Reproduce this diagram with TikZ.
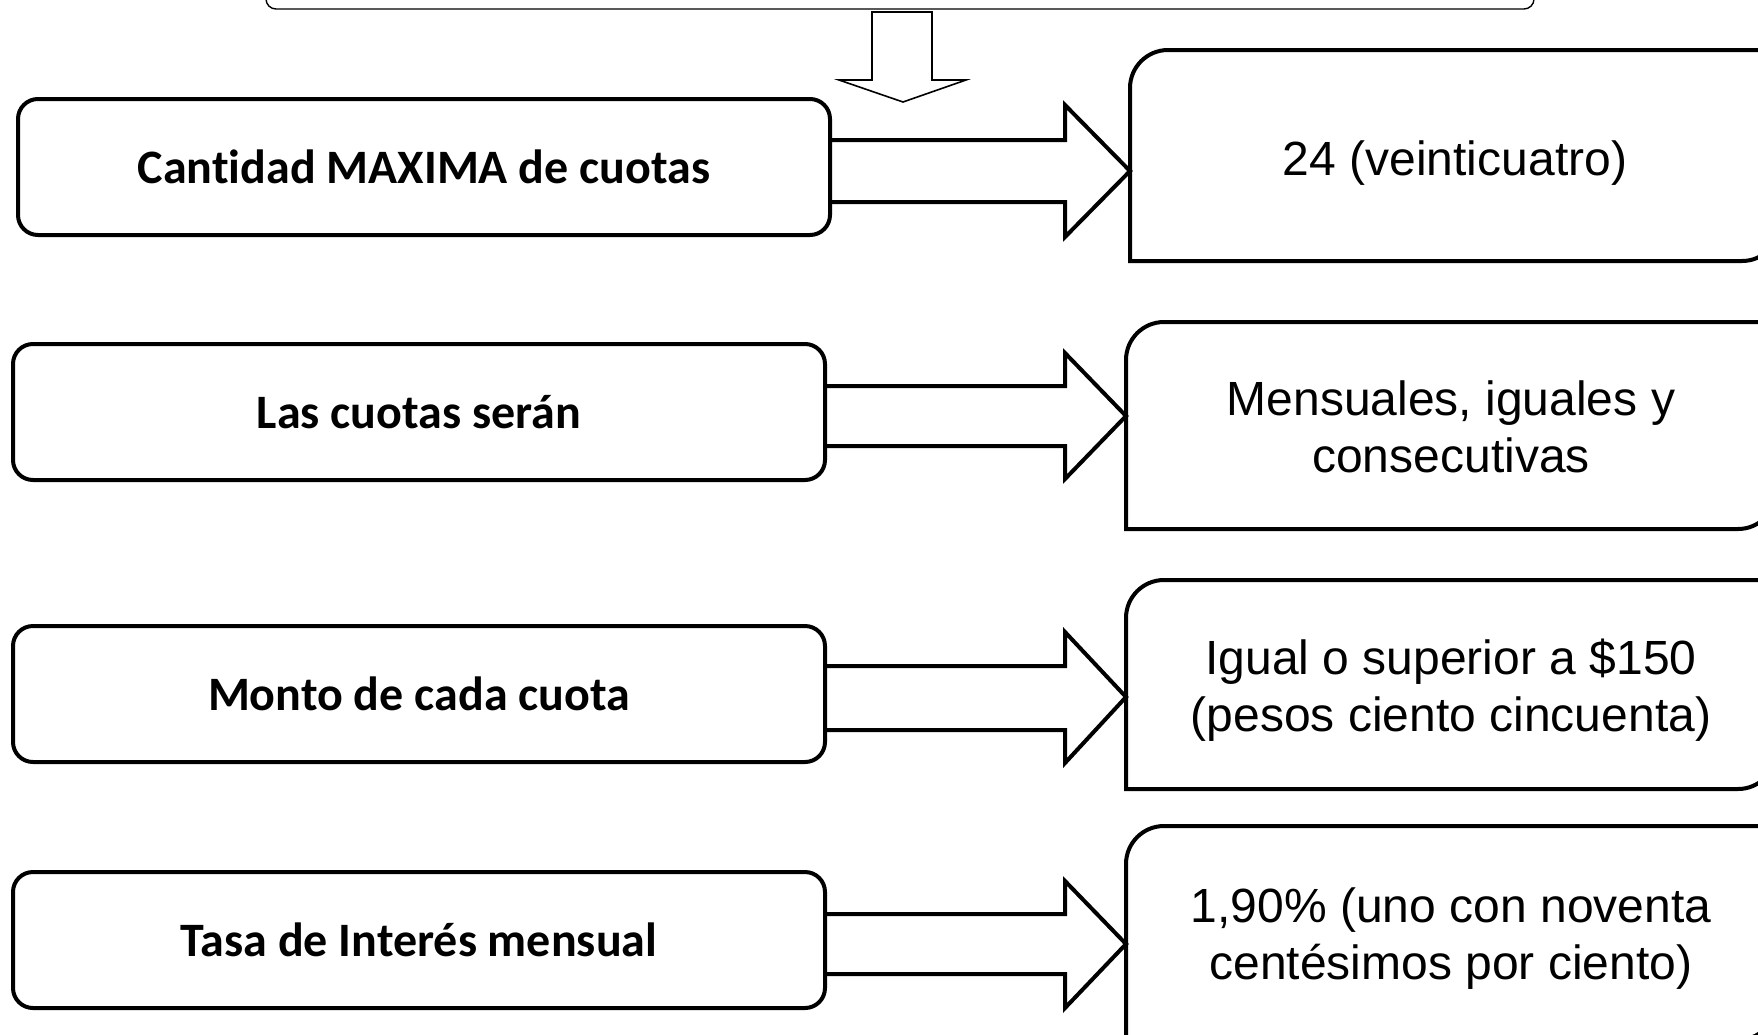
\documentclass[tikz,border=0pt]{standalone}
\usepackage{fontspec}
\newfontfamily\calibrifont[Ligatures=NoCommon]{Carlito}
\newfontfamily\arialfont{Liberation Sans}
\usetikzlibrary{calc}
% #1 node name, #2 top y, #3 bottom y
\newcommand\rboxoutline[3]{\draw[boxline] (#1.west |- 0,#3) [rounded corners=38pt] -- (#1.west |- 0,#2) [sharp corners] -- (#1.east |- 0,#2) [rounded corners=38pt] -- (#1.east |- 0,#3) [sharp corners] -- cycle;}
\begin{document}
\begin{tikzpicture}[x=1pt,y=-1pt,
  leftbox/.style={draw, line width=4pt, rounded corners=20pt, minimum width=812pt, minimum height=136pt, outer sep=0pt, inner sep=0pt, font=\calibrifont\bfseries\fontsize{48}{57}\selectfont},
  rightbox/.style={minimum width=650pt, outer sep=0pt, inner sep=0pt, align=center, font=\arialfont\fontsize{48}{57}\selectfont},
  boxline/.style={line width=4pt, line join=miter},
  barrow/.style={line width=4pt, line join=miter},
  thinbox/.style={draw, line width=1.4pt, rounded corners=10pt, outer sep=0pt},
  downarrow/.style={line width=1.6pt, line join=miter}
]
\useasboundingbox (0,0) rectangle (1758,1034);
\clip (0,0) rectangle (1758,1034);

% top box (mostly off the page)
\node[thinbox, minimum width=1268pt, minimum height=120pt] (T) at (900,-51) {};
\coordinate (dtip) at (903,102);
\draw[downarrow] (872,12) -- (872,80) -- (839,80) -- (dtip) -- (966,80) -- (932,80) -- (932,12) -- cycle;

% left boxes
\node[leftbox] (L1) at (424,167) {Cantidad MAXIMA de cuotas};
\node[leftbox] (L2) at (419,412) {Las cuotas serán};
\node[leftbox] (L3) at (419,694) {Monto de cada cuota};
\node[leftbox] (L4) at (419,940) {Tasa de Interés mensual};

% right boxes
\node[rightbox] (R1) at (1455,163.5) {24 (veinticuatro)};
\node[rightbox] (R2) at (1451,426.5) {Mensuales, iguales y\\consecutivas};
\node[rightbox] (R3) at (1451,690.5) {Igual o superior a \$150\\(pesos ciento cincuenta)};
\node[rightbox] (R4) at (1451,939) {1,90\% (uno con noventa\\centésimos por ciento)};
\rboxoutline{R1}{50}{261}
\rboxoutline{R2}{322}{529}
\rboxoutline{R3}{580}{789}
\rboxoutline{R4}{826}{1040}

% block arrows
\draw[barrow] (L1.east |- 0,140) -- (1065,140) -- (1065,105) -- (R1.west |- 0,171) -- (1065,237) -- (1065,202) -- (L1.east |- 0,202);
\draw[barrow] (L2.east |- 0,386) -- (1065,386) -- (1065,353) -- (R2.west |- 0,416) -- (1065,479) -- (1065,446) -- (L2.east |- 0,446);
\draw[barrow] (L3.east |- 0,666) -- (1065,666) -- (1065,632) -- (R3.west |- 0,697) -- (1065,763) -- (1065,730) -- (L3.east |- 0,730);
\draw[barrow] (L4.east |- 0,914) -- (1065,914) -- (1065,881) -- (R4.west |- 0,944) -- (1065,1008) -- (1065,974) -- (L4.east |- 0,974);
\end{tikzpicture}
\end{document}
